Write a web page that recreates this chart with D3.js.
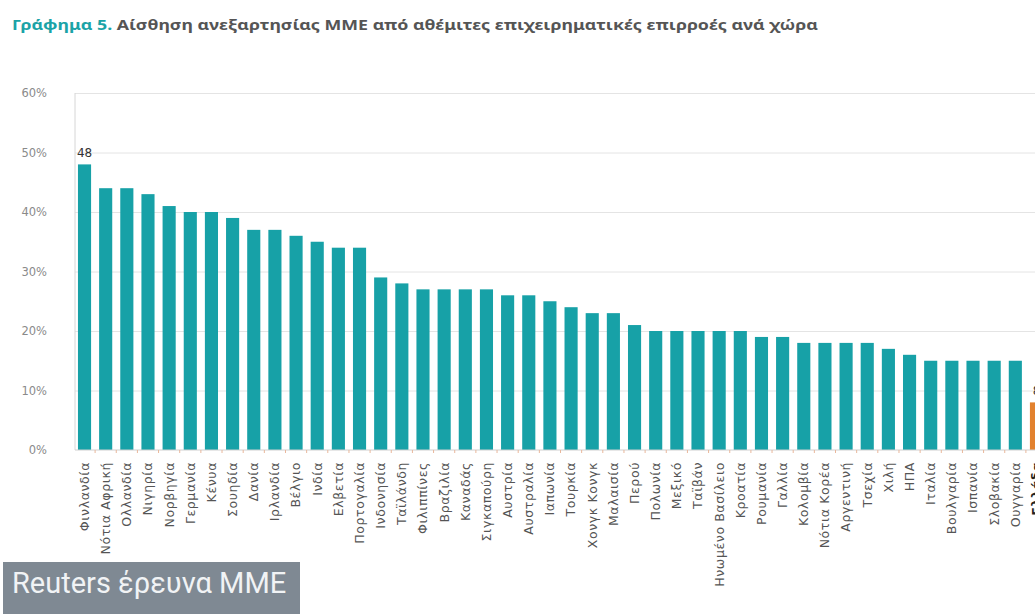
<!DOCTYPE html>
<html>
<head>
<meta charset="utf-8">
<script src="https://cdn.jsdelivr.net/npm/d3@7"></script>
<style>
  html, body { margin: 0; padding: 0; background: #fff; overflow: hidden; }
  svg { display: block; }
</style>
</head>
<body>
<svg id="chart" width="1035" height="614"></svg>
<script>
// Countries, ordered from highest to lowest perceived independence
const countries = [
  "Φινλανδία", "Νότια Αφρική", "Ολλανδία", "Νιγηρία", "Νορβηγία", "Γερμανία",
  "Κένυα", "Σουηδία", "Δανία", "Ιρλανδία", "Βέλγιο", "Ινδία", "Ελβετία",
  "Πορτογαλία", "Ινδονησία", "Ταϊλάνδη", "Φιλιππίνες", "Βραζιλία", "Καναδάς",
  "Σιγκαπούρη", "Αυστρία", "Αυστραλία", "Ιαπωνία", "Τουρκία", "Χονγκ Κονγκ",
  "Μαλαισία", "Περού", "Πολωνία", "Μεξικό", "Ταϊβάν", "Ηνωμένο Βασίλειο",
  "Κροατία", "Ρουμανία", "Γαλλία", "Κολομβία", "Νότια Κορέα", "Αργεντινή",
  "Τσεχία", "Χιλή", "ΗΠΑ", "Ιταλία", "Βουλγαρία", "Ισπανία", "Σλοβακία",
  "Ουγγαρία", "Ελλάδα"
];

// Share (%) who think media are free from undue business influence
const values = [
  48, 44, 44, 43, 41, 40,
  40, 39, 37, 37, 36, 35, 34,
  34, 29, 28, 27, 27, 27,
  27, 26, 26, 25, 24, 23,
  23, 21, 20, 20, 20, 20,
  20, 19, 19, 18, 18, 18,
  18, 17, 16, 15, 15, 15, 15,
  15, 8
];

// Countries whose value is printed above the bar
const labelledCountries = ["Φινλανδία", "Ελλάδα"];
const highlightCountry = "Ελλάδα";

const yTicks = [0, 10, 20, 30, 40, 50, 60];

const titleLead = "Γράφημα 5.";
const titleRest = " Αίσθηση ανεξαρτησίας ΜΜΕ από αθέμιτες επιχειρηματικές επιρροές ανά χώρα";
const sourceText = "Reuters έρευνα ΜΜΕ";

const TEAL = "#17a1a7";
const ORANGE = "#e2812e";

const data = countries.map((c, i) => ({ country: c, value: values[i] }));

const svg = d3.select("#chart");

const plot = { left: 75, right: 1046, top: 93, bottom: 450 };

const x = d3.scaleBand()
  .domain(countries)
  .range([plot.left, plot.right])
  .paddingInner(0.38)
  .paddingOuter(0.14);

const y = d3.scaleLinear()
  .domain([0, 60])
  .range([plot.bottom, plot.top]);

// Title
const title = svg.append("text")
  .attr("x", 12)
  .attr("y", 30)
  .attr("font-family", "'Noto Sans', sans-serif")
  .attr("font-weight", "bold")
  .attr("font-size", 15)
  .attr("textLength", 806)
  .attr("lengthAdjust", "spacingAndGlyphs");
title.append("tspan").attr("fill", "#1ba3a7").text(titleLead);
title.append("tspan").attr("fill", "#555").text(titleRest);

// Horizontal gridlines
svg.append("g")
  .attr("transform", `translate(${plot.left},0)`)
  .call(d3.axisLeft(y).tickValues(yTicks.slice(1)).tickSize(-(1035 - plot.left)).tickFormat(""))
  .call(g => g.select(".domain").remove())
  .call(g => g.selectAll("line").attr("stroke", "#e4e4e4").attr("stroke-width", 1));

// Left axis line
svg.append("line")
  .attr("x1", plot.left).attr("x2", plot.left)
  .attr("y1", y(60)).attr("y2", y(0))
  .attr("stroke", "#d6d6d6");

// Y tick labels
svg.append("g")
  .attr("transform", `translate(${plot.left},0)`)
  .call(d3.axisLeft(y).tickValues(yTicks).tickSize(0).tickPadding(28).tickFormat(d => d + "%"))
  .call(g => g.select(".domain").remove())
  .call(g => g.selectAll("text")
    .attr("fill", "#8a8a8a")
    .attr("font-family", "'DejaVu Sans', sans-serif")
    .attr("font-size", 11.5));

// Bars
svg.append("g")
  .selectAll("rect")
  .data(data)
  .join("rect")
  .attr("x", d => x(d.country))
  .attr("y", d => y(d.value))
  .attr("width", x.bandwidth())
  .attr("height", d => y(0) - y(d.value))
  .attr("fill", d => d.country === highlightCountry ? ORANGE : TEAL);

// Baseline
svg.append("line")
  .attr("x1", plot.left).attr("x2", 1035)
  .attr("y1", y(0)).attr("y2", y(0))
  .attr("stroke", "#cfcfcf");

// Small category separators on the baseline
const step = x.step();
svg.append("g")
  .selectAll("line")
  .data(countries.slice(1))
  .join("line")
  .attr("x1", d => x(d) - (step - x.bandwidth()) / 2)
  .attr("x2", d => x(d) - (step - x.bandwidth()) / 2)
  .attr("y1", y(0))
  .attr("y2", y(0) + 3)
  .attr("stroke", "#e9b79b");

// Category labels (rotated)
const xAxis = svg.append("g")
  .attr("transform", `translate(0,${y(0)})`)
  .call(d3.axisBottom(x).tickSize(0).tickPadding(0))
  .call(g => g.select(".domain").remove());
xAxis.selectAll("text")
  .attr("transform", "translate(0,12) rotate(-90)")
  .attr("text-anchor", "end")
  .attr("x", 0)
  .attr("y", 0)
  .attr("dy", "0.35em")
  .attr("font-family", "'DejaVu Sans', sans-serif")
  .attr("font-size", 12.5)
  .attr("letter-spacing", "0.6px")
  .attr("fill", d => d === highlightCountry ? "#222" : "#555")
  .attr("font-weight", d => d === highlightCountry ? "bold" : "normal");

// Value labels
svg.append("g")
  .selectAll("text")
  .data(data.filter(d => labelledCountries.includes(d.country)))
  .join("text")
  .attr("x", d => x(d.country) + x.bandwidth() / 2)
  .attr("y", d => y(d.value) - 7)
  .attr("text-anchor", "middle")
  .attr("font-family", "'DejaVu Sans', sans-serif")
  .attr("font-size", 12)
  .attr("fill", "#333")
  .text(d => d.value);

// Source tag
svg.append("rect")
  .attr("x", 3).attr("y", 562)
  .attr("width", 297).attr("height", 52)
  .attr("fill", "#7f8993");
svg.append("text")
  .attr("x", 12).attr("y", 593)
  .attr("font-family", "Roboto, sans-serif")
  .attr("font-size", 29)
  .attr("fill", "#f1f3f5")
  .text(sourceText);
</script>
</body>
</html>
